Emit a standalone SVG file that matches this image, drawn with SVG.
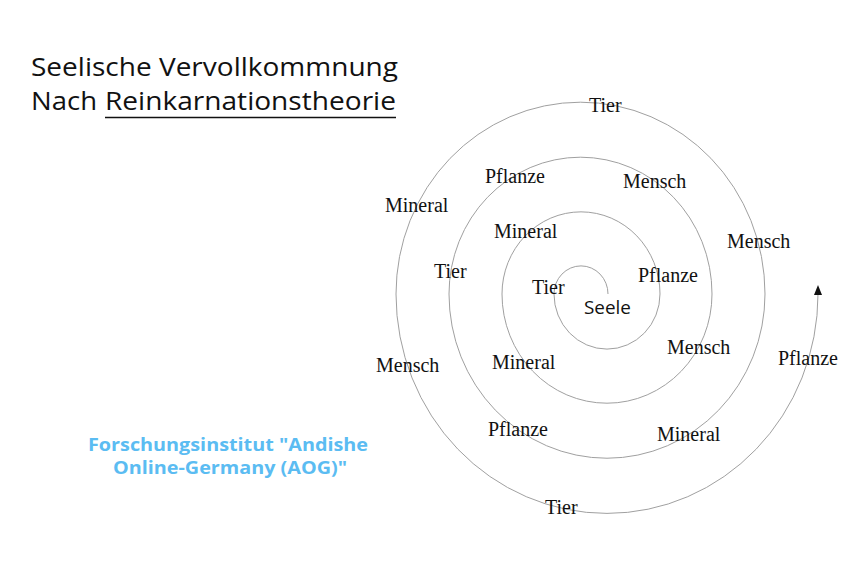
<svg xmlns="http://www.w3.org/2000/svg" width="855" height="561" viewBox="0 0 855 561">
<style>
.lbl{font-family:"Liberation Serif","Times New Roman",serif;font-size:20px;fill:#111}
.title{font-family:"Open Sans","Noto Sans",sans-serif;font-size:26px;fill:#111}
.org{font-family:"Open Sans","Noto Sans",sans-serif;font-size:18px;font-weight:bold;fill:#5bbcf2}
.spiral{fill:none;stroke:#a0a0a0;stroke-width:1}
</style>
<defs>
<marker id="arrow" viewBox="0 0 10 8" markerWidth="10" markerHeight="8" refX="1" refY="4" orient="auto" markerUnits="userSpaceOnUse">
<path d="M0,0 L10,4 L0,8 z" fill="#111"/>
</marker>
</defs>
<rect width="855" height="561" fill="#fff"/>
<g id="title">
<text class="title" x="31" y="76" textLength="367" lengthAdjust="spacingAndGlyphs">Seelische Vervollkommnung</text>
<text class="title" x="31" y="110" textLength="66" lengthAdjust="spacingAndGlyphs">Nach</text>
<text class="title" x="105" y="110" textLength="291" lengthAdjust="spacingAndGlyphs">Reinkarnationstheorie</text>
<line x1="105" y1="117.5" x2="396" y2="117.5" stroke="#111" stroke-width="1.4"/>
</g>
<g id="connectors">
<path class="spiral" marker-end="url(#arrow)" d="M 608 294 A 27 28.1 0 0 0 554 294 A 53 55.1 0 0 0 660 294 A 79 82.2 0 0 0 502 294 A 105 109.2 0 0 0 712 294 A 131.5 136.8 0 0 0 449 294 A 158 164.3 0 0 0 765 294 A 184.5 191.9 0 0 0 396 294 A 211 219.4 0 0 0 818 294"/>
</g>
<g id="seele"><text x="584" y="314" font-family="'Open Sans','Noto Sans',sans-serif" font-size="18" fill="#111" textLength="47" lengthAdjust="spacingAndGlyphs">Seele</text></g>
<g id="tier1"><text class="lbl" x="532" y="294">Tier</text></g>
<g id="pflanze1"><text class="lbl" x="638" y="282">Pflanze</text></g>
<g id="mensch1"><text class="lbl" x="667" y="354">Mensch</text></g>
<g id="mineral1"><text class="lbl" x="492" y="369">Mineral</text></g>
<g id="tier2"><text class="lbl" x="434" y="278">Tier</text></g>
<g id="mineral2"><text class="lbl" x="494" y="238">Mineral</text></g>
<g id="pflanze2"><text class="lbl" x="485" y="183">Pflanze</text></g>
<g id="mensch2"><text class="lbl" x="623" y="188">Mensch</text></g>
<g id="mensch3"><text class="lbl" x="727" y="248">Mensch</text></g>
<g id="mineral3"><text class="lbl" x="657" y="441">Mineral</text></g>
<g id="pflanze3"><text class="lbl" x="488" y="436">Pflanze</text></g>
<g id="mensch4"><text class="lbl" x="376" y="372">Mensch</text></g>
<g id="mineral4"><text class="lbl" x="385" y="212">Mineral</text></g>
<g id="tier3"><text class="lbl" x="589" y="112">Tier</text></g>
<g id="tier4"><text class="lbl" x="545" y="514">Tier</text></g>
<g id="pflanze4"><text class="lbl" x="778" y="365">Pflanze</text></g>
<g id="org">
<text class="org" x="228" y="451" text-anchor="middle" textLength="280" lengthAdjust="spacingAndGlyphs">Forschungsinstitut "Andishe</text>
<text class="org" x="230" y="474" text-anchor="middle" textLength="234" lengthAdjust="spacingAndGlyphs">Online-Germany (AOG)"</text>
</g>
</svg>
